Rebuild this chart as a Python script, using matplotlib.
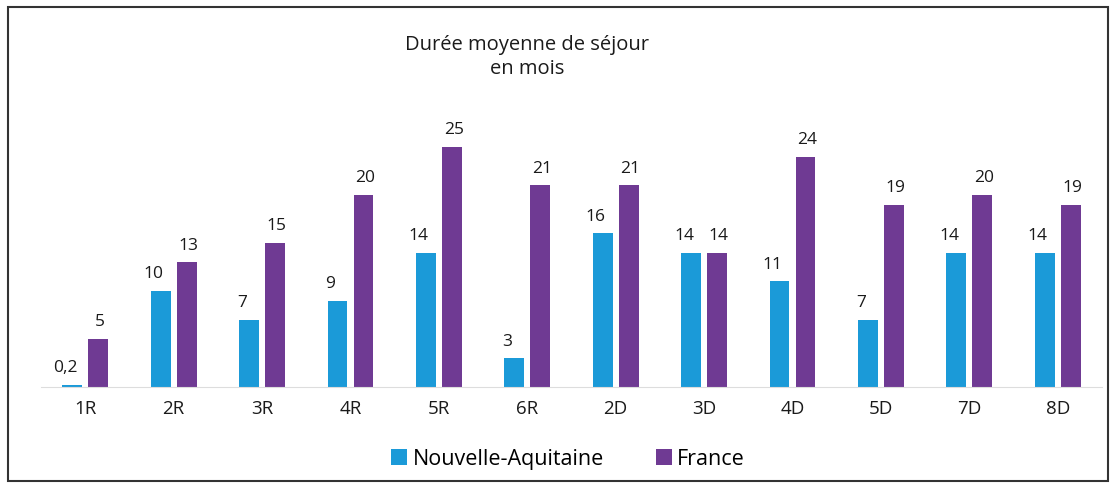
import matplotlib.pyplot as plt
import numpy as np
from matplotlib.patches import Rectangle

plt.rcParams['font.family'] = ['Open Sans', 'DejaVu Sans']

categories = ["1R", "2R", "3R", "4R", "5R", "6R", "2D", "3D", "4D", "5D", "7D", "8D"]
nouvelle_aquitaine = [0.2, 10, 7, 9, 14, 3, 16, 14, 11, 7, 14, 14]
france = [5, 13, 15, 20, 25, 21, 21, 14, 24, 19, 20, 19]
na_labels = ["0,2", "10", "7", "9", "14", "3", "16", "14", "11", "7", "14", "14"]
fr_labels = ["5", "13", "15", "20", "25", "21", "21", "14", "24", "19", "20", "19"]

blue = "#1b9ad8"
purple = "#6f3a93"

fig = plt.figure(figsize=(11.16, 4.85), dpi=100)
ax = fig.add_axes([41 / 1116, 97 / 485, 1061 / 1116, 288 / 485])

x = np.arange(len(categories))
w = 0.225
off = 0.147
b1 = ax.bar(x - off, nouvelle_aquitaine, w, color=blue, label="Nouvelle-Aquitaine")
b2 = ax.bar(x + off, france, w, color=purple, label="France")

for rect, lab in zip(b1, na_labels):
    ax.text(rect.get_x() + rect.get_width() / 2 - 0.08, rect.get_height() + 1.0, lab,
            ha="center", va="bottom", fontsize=12.5, color="#1a1a1a")
for rect, lab in zip(b2, fr_labels):
    ax.text(rect.get_x() + rect.get_width() / 2 + 0.02, rect.get_height() + 1.0, lab,
            ha="center", va="bottom", fontsize=12.5, color="#1a1a1a")

ax.set_xlim(-0.5, len(categories) - 0.5)
ax.set_ylim(0, 30)
ax.set_xticks(x)
ax.set_xticklabels(categories, fontsize=13.5, color="#1a1a1a")
ax.tick_params(axis="x", length=0, pad=9)
ax.set_yticks([])
for s in ["top", "right", "left"]:
    ax.spines[s].set_visible(False)
ax.spines["bottom"].set_color("#dddddd")

fig.text(527 / 1116, 1 - 57 / 485, "Durée moyenne de séjour\nen mois", ha="center", va="center",
         fontsize=14.5, color="#1a1a1a", linespacing=1.25)

fig.legend(handles=[b1, b2], loc="center", bbox_to_anchor=(568 / 1116, 1 - 460 / 485), ncol=2,
           frameon=False, fontsize=15.5, handlelength=0.75, handleheight=0.7,
           handletextpad=0.25, columnspacing=2.4)

fig.patches.append(Rectangle((8 / 1116, 3 / 485), 1100 / 1116, 474 / 485,
                             transform=fig.transFigure, fill=False,
                             edgecolor="#333333", linewidth=1.5))

fig.savefig("out.png", dpi=100)
